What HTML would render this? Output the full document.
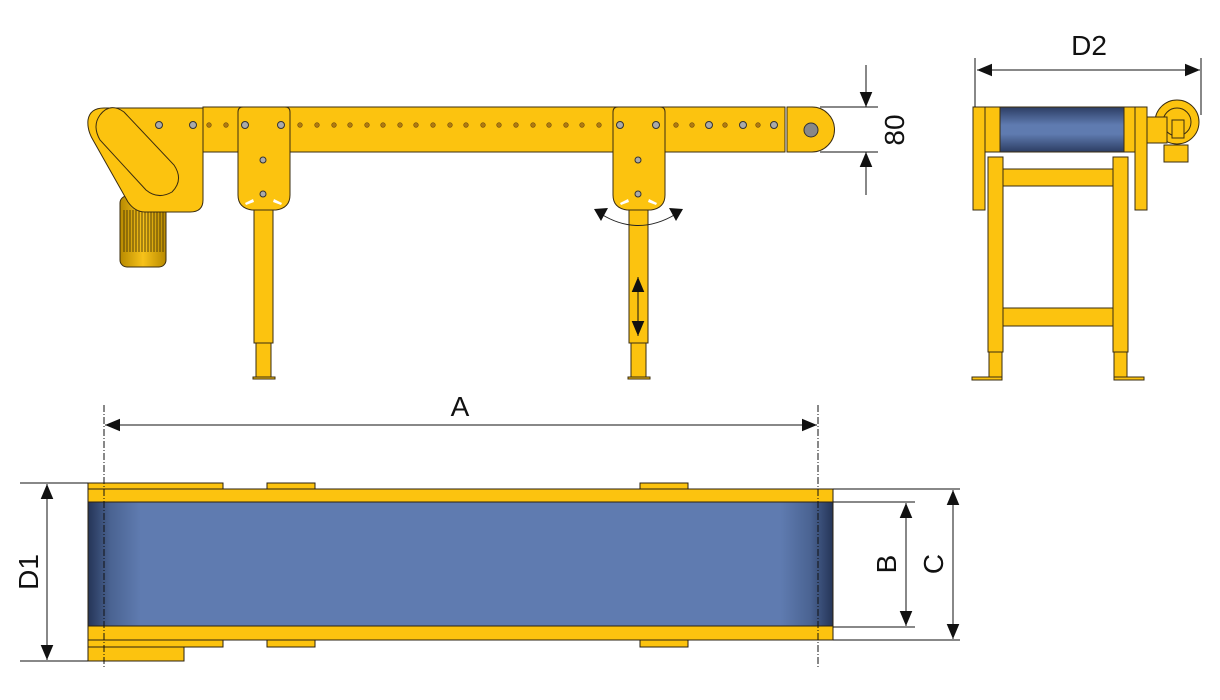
<!DOCTYPE html>
<html><head><style>body{margin:0;background:#fff}svg{display:block}text{font-family:"Liberation Sans",sans-serif;fill:#111}</style></head>
<body>
<svg width="1220" height="700" viewBox="0 0 1220 700" xmlns="http://www.w3.org/2000/svg">
<defs>
<marker id="ab" viewBox="0 0 10 10" refX="10" refY="5" markerWidth="15" markerHeight="15" orient="auto-start-reverse" markerUnits="userSpaceOnUse"><path d="M0,0.8L10,5L0,9.2z" fill="#111"/></marker>
<linearGradient id="belt" x1="0" x2="1"><stop offset="0" stop-color="#253557"/><stop offset="0.03" stop-color="#4a6392"/><stop offset="0.07" stop-color="#5f7bb0"/><stop offset="0.93" stop-color="#5f7bb0"/><stop offset="0.97" stop-color="#4a6392"/><stop offset="1" stop-color="#253557"/></linearGradient>
<linearGradient id="roll" x1="0" y1="0" x2="0" y2="1"><stop offset="0" stop-color="#2c3d63"/><stop offset="0.4" stop-color="#5f7bb0"/><stop offset="0.6" stop-color="#5f7bb0"/><stop offset="1" stop-color="#2c3d63"/></linearGradient>
<linearGradient id="mot" x1="0" x2="1"><stop offset="0" stop-color="#b88a00"/><stop offset="0.5" stop-color="#f7c21a"/><stop offset="1" stop-color="#b88a00"/></linearGradient>
</defs>
<g stroke="#3a2c10" stroke-width="1" fill="#fcc30f">
<rect x="120" y="196" width="46" height="71" rx="7" fill="url(#mot)"/>
<g stroke="#4a3808" stroke-width="0.9">
<path d="M124 210V252M127 210V252M130 210V252M133 210V252M136 210V252M139 210V252M142 210V252M145 210V252M148 210V252M151 210V252M154 210V252M157 210V252M160 210V252M163 210V252"/></g>
<path d="M88 120 Q90 108 104 108 H203 V200 Q203 212 190 212 H145 Q135 212 128 202 L93 140 Q87 130 88 120Z"/>
<path d="M100 115 Q110 102 124 112 L174 165 Q184 180 172 192 Q158 200 146 190 L100 140 Q92 126 100 115Z"/>
<rect x="203" y="107" width="582" height="45"/>
<path d="M787 107 H812 A22.5 22.5 0 0 1 812 152 H787Z"/>
<circle cx="811" cy="130" r="7" fill="#888" stroke="#333"/>
<rect x="254" y="208" width="19" height="135"/><rect x="256" y="343" width="15" height="34"/><rect x="253" y="377" width="22" height="2"/>
<rect x="629" y="208" width="19" height="135"/><rect x="631" y="343" width="15" height="34"/><rect x="628" y="377" width="22" height="2"/>
<path d="M238 112 Q238 107 243 107 H285 Q290 107 290 112 V195 Q290 208 276 210 H252 Q238 208 238 195Z"/>
<path d="M613 112 Q613 107 618 107 H660 Q665 107 665 112 V195 Q665 208 651 210 H627 Q613 208 613 195Z"/>
</g>
<g fill="#fff"><path d="M245 203 l8 -4 1 3 -8 3z M282 203 l-8 -4 -1 3 8 3z M620 203 l8 -4 1 3 -8 3z M657 203 l-8 -4 -1 3 8 3z"/></g>
<g fill="#b07a10" stroke="#6a4a10" stroke-width="0.6">
<circle cx="209" cy="125" r="2.3"/><circle cx="226" cy="125" r="2.3"/>
<circle cx="300" cy="125" r="2.3"/><circle cx="317" cy="125" r="2.3"/><circle cx="334" cy="125" r="2.3"/><circle cx="350" cy="125" r="2.3"/><circle cx="367" cy="125" r="2.3"/><circle cx="383" cy="125" r="2.3"/><circle cx="400" cy="125" r="2.3"/><circle cx="416" cy="125" r="2.3"/><circle cx="433" cy="125" r="2.3"/><circle cx="450" cy="125" r="2.3"/><circle cx="466" cy="125" r="2.3"/><circle cx="483" cy="125" r="2.3"/><circle cx="499" cy="125" r="2.3"/><circle cx="516" cy="125" r="2.3"/><circle cx="533" cy="125" r="2.3"/><circle cx="549" cy="125" r="2.3"/><circle cx="566" cy="125" r="2.3"/><circle cx="582" cy="125" r="2.3"/><circle cx="599" cy="125" r="2.3"/>
<circle cx="676" cy="125" r="2.3"/><circle cx="692" cy="125" r="2.3"/><circle cx="725" cy="125" r="2.3"/><circle cx="758" cy="125" r="2.3"/>
</g>
<g fill="#aaa" stroke="#333" stroke-width="1">
<circle cx="159" cy="125" r="3.5"/><circle cx="193" cy="125" r="3.5"/><circle cx="245" cy="125" r="3.5"/><circle cx="281" cy="125" r="3.5"/><circle cx="263" cy="160" r="3"/><circle cx="263" cy="194" r="3"/>
<circle cx="620" cy="125" r="3.5"/><circle cx="656" cy="125" r="3.5"/><circle cx="638" cy="160" r="3"/><circle cx="638" cy="194" r="3"/>
<circle cx="709" cy="125" r="3.5"/><circle cx="743" cy="125" r="3.5"/><circle cx="774" cy="125" r="3.5"/>
</g>
<path d="M601 214 Q638 237 676 214" fill="none" stroke="#222" stroke-width="1"/>
<path d="M594 209 L608 208 L601 221Z M683 209 L669 208 L676 221Z" fill="#111"/>
<line x1="638" y1="277" x2="638" y2="336" stroke="#111" marker-start="url(#ab)" marker-end="url(#ab)"/>
<g stroke="#111" stroke-width="1" fill="none">
<line x1="820" y1="107" x2="878" y2="107"/><line x1="820" y1="152" x2="878" y2="152"/>
<line x1="866" y1="65" x2="866" y2="107" marker-end="url(#ab)"/><line x1="866" y1="195" x2="866" y2="152" marker-end="url(#ab)"/>
</g>
<text font-size="28" transform="translate(904,130) rotate(-90)" text-anchor="middle">80</text>
<g stroke="#3a2c10" stroke-width="1" fill="#fcc30f">
<rect x="988" y="157" width="15" height="195"/><rect x="1113" y="157" width="15" height="195"/>
<rect x="1003" y="169" width="110" height="17"/><rect x="1003" y="308" width="110" height="18"/>
<rect x="989" y="352" width="13" height="25"/><rect x="1114" y="352" width="13" height="25"/>
<rect x="972" y="377" width="30" height="3"/><rect x="1114" y="377" width="30" height="3"/>
<rect x="973" y="107" width="12" height="103"/><rect x="1135" y="107" width="12" height="103"/>
<rect x="985" y="107" width="150" height="45"/>
<rect x="1000" y="107" width="124" height="45" fill="url(#roll)"/>
<rect x="1164" y="145" width="24" height="17"/>
<circle cx="1177" cy="122" r="22"/><circle cx="1177" cy="122" r="14"/>
<rect x="1147" y="117" width="20" height="26"/>
<rect x="1172" y="120" width="12" height="18"/>
</g>
<g stroke="#111" stroke-width="1" fill="none">
<line x1="975" y1="58" x2="975" y2="107"/><line x1="1201" y1="58" x2="1201" y2="115"/>
<line x1="977" y1="70" x2="1200" y2="70" marker-start="url(#ab)" marker-end="url(#ab)"/>
</g>
<text x="1089" y="55" font-size="28" text-anchor="middle">D2</text>
<line x1="105" y1="425" x2="817" y2="425" stroke="#111" marker-start="url(#ab)" marker-end="url(#ab)"/>
<text x="460" y="416" font-size="28" text-anchor="middle">A</text>
<g stroke="#2a2010" stroke-width="1" fill="#fcc30f">
<rect x="88" y="483" width="135" height="7"/><rect x="267" y="483" width="48" height="6"/><rect x="640" y="483" width="48" height="6"/>
<rect x="88" y="489" width="745" height="13"/>
<rect x="88" y="626" width="745" height="14"/>
<rect x="88" y="640" width="135" height="7"/><rect x="267" y="640" width="48" height="7"/><rect x="640" y="640" width="48" height="7"/>
<rect x="88" y="647" width="96" height="14"/>
</g>
<rect x="88" y="502" width="745" height="124" fill="url(#belt)" stroke="#2a2010"/>
<g stroke="#111" stroke-width="1" fill="none">
<line x1="104" y1="405" x2="104" y2="668" stroke-dasharray="7 2 1 2"/>
<line x1="818" y1="405" x2="818" y2="668" stroke-dasharray="7 2 1 2"/>
<line x1="20" y1="483" x2="88" y2="483"/><line x1="20" y1="661" x2="88" y2="661"/>
<line x1="47" y1="484" x2="47" y2="660" marker-start="url(#ab)" marker-end="url(#ab)"/>
<line x1="833" y1="489" x2="960" y2="489"/><line x1="833" y1="640" x2="960" y2="640"/>
<line x1="833" y1="502" x2="915" y2="502"/><line x1="833" y1="627" x2="915" y2="627"/>
<line x1="906" y1="503" x2="906" y2="626" marker-start="url(#ab)" marker-end="url(#ab)"/>
<line x1="953" y1="490" x2="953" y2="639" marker-start="url(#ab)" marker-end="url(#ab)"/>
</g>
<text font-size="28" transform="translate(38,572) rotate(-90)" text-anchor="middle">D1</text>
<text font-size="28" transform="translate(896,564) rotate(-90)" text-anchor="middle">B</text>
<text font-size="28" transform="translate(943,564) rotate(-90)" text-anchor="middle">C</text>
</svg>
</body></html>
